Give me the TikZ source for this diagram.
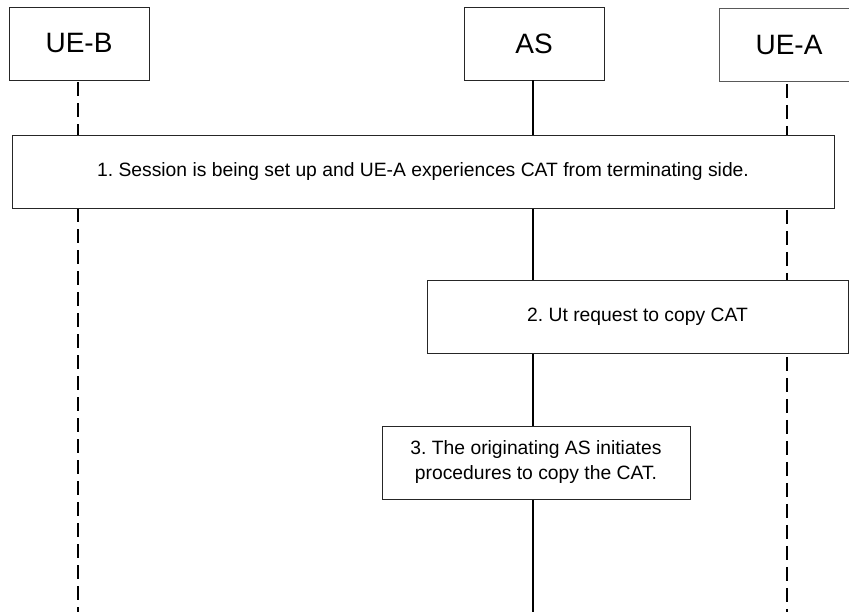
\documentclass[tikz,border=0pt]{standalone}
\usepackage{fontspec}
\setmainfont{Liberation Sans}
\frenchspacing
\begin{document}
\begin{tikzpicture}[x=1pt,y=-1pt,
  entity/.style={draw=black!85, line width=0.9pt, fill=white, inner sep=0pt,
    minimum width=140pt, minimum height=73pt,
    font=\fontsize{28}{34}\selectfont},
  stepbox/.style={draw=black!85, line width=0.9pt, fill=white, inner sep=0pt,
    minimum height=73pt, align=center,
    font=\fontsize{19.3}{25}\selectfont},
  solidlife/.style={line width=1.2pt},
  dashlife/.style={line width=1.2pt, dash pattern=on 14pt off 7pt, dash phase=-2pt}]
\useasboundingbox (0,0) rectangle (849,612);
\clip (0,0) rectangle (849,612);
\coordinate (bot) at (0,614);

% participants
\node[entity] (ueb) at (79,43.5) {UE-B};
\node[entity] (as)  at (534,43.5) {AS};
\node[entity, draw=black!65] (uea) at (789,45) {UE-A};

% lifelines
\draw[dashlife]  ([xshift=-1pt]ueb.south) -- ([xshift=-1pt]ueb.south |- bot);
\draw[solidlife] ([xshift=-1pt]as.south) -- ([xshift=-1pt]as.south |- bot);
\draw[dashlife]  ([xshift=-2pt]uea.south) -- ([xshift=-2pt]uea.south |- bot);

% steps
\node[stepbox, minimum width=822pt] (s1) at (423,171.5)
  {1. Session is being set up and UE-A experiences CAT from terminating side.};
\node[stepbox, minimum width=421pt] (s2) at (637.5,316.5)
  {2. Ut request to copy CAT};
\node[stepbox, minimum width=308pt] (s3) at (536,462.5)
  {3. The originating AS initiates\\procedures to copy the CAT.};
\end{tikzpicture}
\end{document}
